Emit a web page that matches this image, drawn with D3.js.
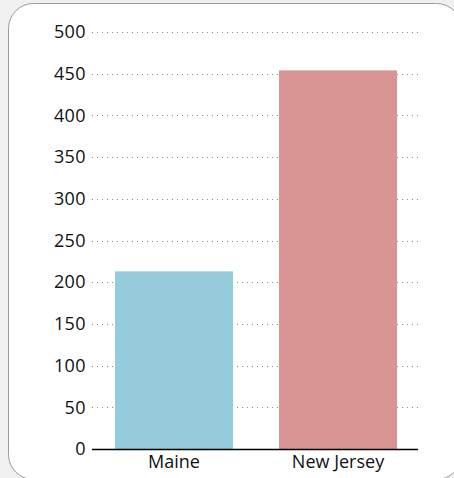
<!DOCTYPE html>
<html>
<head>
<meta charset="utf-8">
<script src="https://cdn.jsdelivr.net/npm/d3@7"></script>
<style>
html,body{margin:0;padding:0;background:#f0f0f0;}
svg{display:block;}
</style>
</head>
<body>
<svg id="chart" width="454" height="478"></svg>
<script>
const categories = ["Maine", "New Jersey"];
const values = [213, 454];
const barColors = ["#96ccd9", "#d99594"];
const yTicks = [0, 50, 100, 150, 200, 250, 300, 350, 400, 450, 500];

const svg = d3.select("#chart");
const W = 454, H = 478;
const margin = {left: 92, right: 34, top: 32, bottom: 29};

svg.append("rect")
  .attr("x", 8.5).attr("y", 3.5)
  .attr("width", 453).attr("height", 476)
  .attr("rx", 25).attr("ry", 25)
  .attr("fill", "#ffffff")
  .attr("stroke", "#9a9a9a")
  .attr("stroke-width", 1);

const x = d3.scaleBand()
  .domain(categories)
  .range([margin.left, W - margin.right])
  .paddingInner(0.28)
  .paddingOuter(0.14);

const y = d3.scaleLinear()
  .domain([0, 500])
  .range([H - margin.bottom, margin.top]);

// gridlines
svg.append("g")
  .selectAll("line")
  .data(yTicks.filter(d => d > 0))
  .join("line")
  .attr("x1", margin.left).attr("x2", W - margin.right)
  .attr("y1", d => Math.round(y(d)) + 0.5).attr("y2", d => Math.round(y(d)) + 0.5)
  .attr("stroke", "#8a8a8a")
  .attr("stroke-width", 1)
  .attr("stroke-dasharray", "1,4");

// y axis labels
const yAxis = d3.axisLeft(y).tickValues(yTicks).tickSize(0).tickPadding(6);
const gy = svg.append("g").attr("transform", `translate(${margin.left},0)`).call(yAxis);
gy.select(".domain").remove();
gy.selectAll("text")
  .attr("font-family", "'Open Sans', sans-serif")
  .attr("font-size", 18)
  .attr("letter-spacing", 0.4)
  .attr("fill", "#111");

// bars
svg.append("g")
  .selectAll("rect")
  .data(categories)
  .join("rect")
  .attr("x", d => x(d))
  .attr("y", (d, i) => y(values[i]))
  .attr("width", x.bandwidth())
  .attr("height", (d, i) => y(0) - y(values[i]))
  .attr("fill", (d, i) => barColors[i]);

// x axis
const xAxis = d3.axisBottom(x).tickSize(0).tickPadding(6);
const gx = svg.append("g").attr("transform", `translate(0,${y(0)})`).call(xAxis);
gx.select(".domain")
  .attr("d", `M${margin.left},0.5H${W - margin.right - 2}`)
  .attr("stroke", "#000")
  .attr("stroke-width", 1.6);
gx.selectAll("text")
  .attr("font-family", "'Open Sans', sans-serif")
  .attr("font-size", 18)
  .attr("fill", "#111");
</script>
</body>
</html>
